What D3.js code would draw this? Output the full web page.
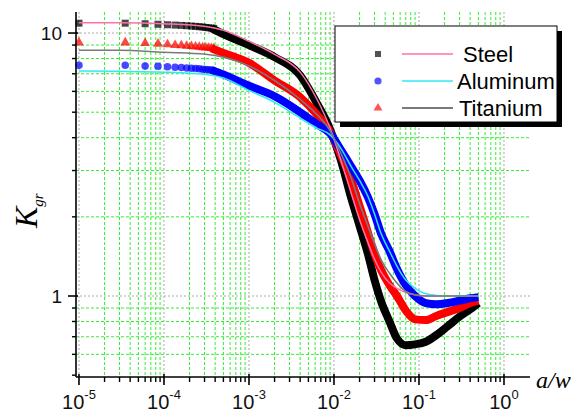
<!DOCTYPE html>
<html><head><meta charset="utf-8">
<script src="https://cdn.jsdelivr.net/npm/d3@7/dist/d3.min.js"></script>
<style>html,body{margin:0;padding:0;background:#fff;} svg{display:block;}</style>
</head><body>
<svg id="chart" width="574" height="415"></svg>
<script>
// ---------- data ----------
const seriesNames = ["Steel", "Aluminum", "Titanium"];

// sparse markers at small a/w (distinct symbols)
const aSparse = [1e-5, 3.5e-5, 6e-5, 8.5e-5, 1.1e-4, 1.35e-4, 1.6e-4, 1.85e-4, 2.1e-4, 2.35e-4, 2.6e-4, 2.85e-4, 3.1e-4, 3.35e-4, 3.6e-4, 3.85e-4];
const steelSparse = [10.9, 10.9, 10.85, 10.8, 10.75, 10.72, 10.69, 10.66, 10.63, 10.6, 10.57, 10.54, 10.5, 10.47, 10.44, 10.41];
const aluminumSparse = [7.55, 7.55, 7.5, 7.47, 7.44, 7.41, 7.39, 7.37, 7.35, 7.33, 7.31, 7.29, 7.27, 7.25, 7.23, 7.21];
const titaniumSparse = [9.2, 9.2, 9.15, 9.1, 9.05, 9.0, 8.97, 8.94, 8.91, 8.88, 8.85, 8.82, 8.8, 8.78, 8.76, 8.74];

// dense marker band (markers overlap into a thick band)
const aBand = [3.6e-4, 5e-4, 1e-3, 2e-3, 4e-3, 6.3e-3, 9e-3, 1.2e-2, 1.6e-2, 2e-2, 2.5e-2, 3e-2, 3.6e-2, 4.5e-2, 5.5e-2, 7e-2, 9e-2, 0.12, 0.16, 0.22, 0.3, 0.4, 0.5];
const steelBand = [10.44, 9.9, 9.0, 8.1, 6.9, 5.4, 4.3, 3.3, 2.35, 1.85, 1.45, 1.15, 0.95, 0.8, 0.69, 0.65, 0.655, 0.67, 0.71, 0.77, 0.835, 0.89, 0.94];
const aluminumBand = [7.23, 6.95, 6.3, 5.75, 5.0, 4.5, 4.15, 3.6, 3.1, 2.75, 2.38, 2.05, 1.72, 1.48, 1.27, 1.1, 1.0, 0.94, 0.93, 0.94, 0.96, 0.98, 0.99];
const titaniumBand = [8.76, 8.4, 7.7, 6.6, 5.7, 4.9, 4.2, 3.45, 2.75, 2.2, 1.75, 1.45, 1.25, 1.1, 1.0, 0.88, 0.815, 0.81, 0.84, 0.87, 0.9, 0.94, 0.96];

// theoretical lines
const aTheory = [1e-5, 3e-5, 1e-4, 3.1e-4, 5e-4, 1e-3, 2e-3, 4e-3, 6.3e-3, 9e-3, 1.2e-2, 1.6e-2, 2e-2, 2.5e-2, 3e-2, 3.6e-2, 4.5e-2, 5.5e-2, 7e-2, 9e-2, 0.12, 0.16, 0.22, 0.3, 0.4, 0.5];
const steelTheory = [10.95, 10.95, 10.85, 10.6, 10.25, 9.3, 8.3, 7.1, 5.6, 4.35, 3.3, 2.45, 1.95, 1.6, 1.38, 1.23, 1.12, 1.07, 1.03, 1.01, 1.0, 1.0, 1.0, 1.0, 1.0, 1.0];
const aluminumTheory = [7.17, 7.15, 7.1, 6.95, 6.75, 6.05, 5.45, 4.75, 4.35, 4.1, 3.65, 3.1, 2.75, 2.4, 2.05, 1.72, 1.48, 1.3, 1.15, 1.07, 1.02, 1.005, 1.0, 1.0, 1.0, 1.0];
const titaniumTheory = [8.6, 8.6, 8.45, 8.3, 8.1, 7.5, 6.6, 5.6, 4.9, 4.25, 3.5, 2.8, 2.25, 1.85, 1.58, 1.37, 1.22, 1.12, 1.04, 1.01, 1.0, 1.0, 1.0, 1.0, 1.0, 1.0];

// ticks
const xMajorTicks = [1e-5, 1e-4, 1e-3, 1e-2, 1e-1, 1];
const xTickExponents = ["-5", "-4", "-3", "-2", "-1", "0"];
const yMajorTicks = [1, 10];
const yTickLabels = ["1", "10"];
const xLabel = "a/w";
const yLabelMain = "K";
const yLabelSub = "gr";

(function () {
// ---------- layout ----------
const svg = d3.select("#chart");
const pL = 76, pR = 530, pT = 12, pB = 377;
const x = d3.scaleLog().domain([Math.pow(10, -5.035), Math.pow(10, 0.306)]).range([pL, pR]);
const y = d3.scaleLog().domain([Math.pow(10, -0.308), Math.pow(10, 1.08)]).range([pB, pT]);

const xMinor = [];
for (let e = -5; e <= -1; e++) for (let m = 2; m <= 9; m++) xMinor.push(m * Math.pow(10, e));
const yMinor = [0.5, 0.6, 0.7, 0.8, 0.9, 2, 3, 4, 5, 6, 7, 8, 9];

// grid
const grid = svg.append("g");
grid.selectAll(".gxm").data(xMinor).enter().append("line")
  .attr("x1", d => x(d)).attr("x2", d => x(d)).attr("y1", pT).attr("y2", pB)
  .attr("stroke", "#33ee33").attr("stroke-width", 1).attr("stroke-dasharray", "3,2");
grid.selectAll(".gym").data(yMinor.filter(v => v > 0.52)).enter().append("line")
  .attr("x1", pL).attr("x2", pR).attr("y1", d => y(d)).attr("y2", d => y(d))
  .attr("stroke", "#33ee33").attr("stroke-width", 1).attr("stroke-dasharray", "3,2");
grid.selectAll(".gxM").data(xMajorTicks).enter().append("line")
  .attr("x1", d => x(d)).attr("x2", d => x(d)).attr("y1", pT).attr("y2", pB)
  .attr("stroke", "#aaaaaa").attr("stroke-width", 1).attr("stroke-dasharray", "2,2");
grid.selectAll(".gyM").data(yMajorTicks).enter().append("line")
  .attr("x1", pL).attr("x2", pR).attr("y1", d => y(d)).attr("y2", d => y(d))
  .attr("stroke", "#aaaaaa").attr("stroke-width", 1).attr("stroke-dasharray", "2,2");

// series
const colors = { steel: "#000000", aluminum: "#0000ff", titanium: "#ff0000" };
const lineColors = { steel: "#ff70a8", aluminum: "#30e8f8", titanium: "#7a7a7a" };
const mk = (xs, ys) => xs.map((a, i) => ({ a: a, k: ys[i] }));
const lineGen = d3.line().x(d => x(d.a)).y(d => y(d.k)).curve(d3.curveMonotoneX);

const bands = [
  { key: "steel", data: mk(aBand, steelBand) },
  { key: "titanium", data: mk(aBand, titaniumBand) },
  { key: "aluminum", data: mk(aBand, aluminumBand) }
];
const sparse = [
  { key: "steel", data: mk(aSparse, steelSparse), sym: d3.symbolSquare, size: 49 },
  { key: "titanium", data: mk(aSparse, titaniumSparse), sym: d3.symbolTriangle, size: 42 },
  { key: "aluminum", data: mk(aSparse, aluminumSparse), sym: d3.symbolCircle, size: 44 }
];
const gS = svg.append("g");
sparse.forEach((s, idx) => {
  gS.selectAll(".m" + idx).data(s.data).enter().append("path")
    .attr("d", d3.symbol().type(s.sym).size(s.size))
    .attr("transform", d => `translate(${x(d.a)},${y(d.k)})`)
    .attr("fill", colors[s.key]).attr("fill-opacity", 0.72);
  const b = bands[idx];
  gS.append("path").datum(b.data).attr("d", lineGen)
    .attr("fill", "none").attr("stroke", colors[b.key]).attr("stroke-width", 8)
    .attr("stroke-linecap", "butt").attr("stroke-linejoin", "round");
});

const theory = [
  { key: "steel", data: mk(aTheory, steelTheory), w: 1.5 },
  { key: "aluminum", data: mk(aTheory, aluminumTheory), w: 1.5 },
  { key: "titanium", data: mk(aTheory, titaniumTheory), w: 1.6 }
];
theory.forEach(t => {
  svg.append("path").datum(t.data).attr("d", lineGen)
    .attr("fill", "none").attr("stroke", lineColors[t.key]).attr("stroke-width", t.w);
});

// axes
const ax = svg.append("g").attr("stroke", "#000");
ax.append("line").attr("x1", pL).attr("x2", pR).attr("y1", pB).attr("y2", pB).attr("stroke-width", 1.6);
ax.append("line").attr("x1", pL).attr("x2", pL).attr("y1", pT).attr("y2", pB).attr("stroke-width", 1.6);
ax.selectAll(".xt").data(xMajorTicks).enter().append("line")
  .attr("x1", d => x(d)).attr("x2", d => x(d)).attr("y1", pB - 3).attr("y2", pB + 8).attr("stroke-width", 1.6);
ax.selectAll(".xm").data(xMinor).enter().append("line")
  .attr("x1", d => x(d)).attr("x2", d => x(d)).attr("y1", pB).attr("y2", pB + 5).attr("stroke-width", 1.4);
ax.selectAll(".yt").data(yMajorTicks).enter().append("line")
  .attr("x1", pL - 8).attr("x2", pL + 2).attr("y1", d => y(d)).attr("y2", d => y(d)).attr("stroke-width", 1.6);
ax.selectAll(".ym").data(yMinor).enter().append("line")
  .attr("x1", pL - 4).attr("x2", pL).attr("y1", d => y(d)).attr("y2", d => y(d)).attr("stroke-width", 1.4);

const font = "'Liberation Sans', Arial, sans-serif";
const xl = svg.selectAll(".xl").data(xMajorTicks).enter().append("text")
  .attr("x", d => x(d)).attr("y", 409).attr("text-anchor", "middle")
  .attr("font-family", font).attr("font-size", 20).attr("fill", "#111");
xl.append("tspan").text("10");
xl.append("tspan").attr("dy", -10).attr("font-size", 13).text((d, i) => xTickExponents[i]);

svg.selectAll(".yl").data(yMajorTicks).enter().append("text")
  .attr("x", 62).attr("y", d => y(d) + 7).attr("text-anchor", "end")
  .attr("font-family", font).attr("font-size", 19).attr("fill", "#111")
  .text((d, i) => yTickLabels[i]);

// axis titles
svg.append("text").attr("x", 536).attr("y", 388)
  .attr("font-family", "'Liberation Serif', 'Times New Roman', serif").attr("font-style", "italic")
  .attr("font-size", 24).attr("fill", "#000").text(xLabel);
const yt = svg.append("text").attr("transform", "translate(37,228) rotate(-90)")
  .attr("font-family", "'Liberation Serif', 'Times New Roman', serif").attr("font-style", "italic")
  .attr("font-size", 32).attr("fill", "#000");
yt.append("tspan").text(yLabelMain);
yt.append("tspan").attr("dy", 6).attr("font-size", 15).text(yLabelSub);

// legend
const lg = svg.append("g");
lg.append("rect").attr("x", 340).attr("y", 31).attr("width", 222).attr("height", 96).attr("fill", "#000");
lg.append("rect").attr("x", 335).attr("y", 26).attr("width", 222).attr("height", 96)
  .attr("fill", "#fff").attr("stroke", "#000").attr("stroke-width", 1);
const legendItems = [
  { name: seriesNames[0], key: "steel", sym: d3.symbolSquare, size: 36, tx: 463, w: 1.5 },
  { name: seriesNames[1], key: "aluminum", sym: d3.symbolCircle, size: 40, tx: 457, w: 1.5 },
  { name: seriesNames[2], key: "titanium", sym: d3.symbolTriangle, size: 34, tx: 459, w: 2.2 }
];
legendItems.forEach((it, i) => {
  const cy = 54 + i * 27;
  lg.append("path").attr("d", d3.symbol().type(it.sym).size(it.size))
    .attr("transform", `translate(378,${cy})`).attr("fill", colors[it.key]).attr("fill-opacity", 0.68);
  lg.append("line").attr("x1", 402).attr("x2", 453).attr("y1", cy).attr("y2", cy)
    .attr("stroke", lineColors[it.key]).attr("stroke-width", it.w);
  lg.append("text").attr("x", it.tx).attr("y", cy + 7.5).attr("font-family", font)
    .attr("font-size", 22).attr("fill", "#000").text(it.name);
});
})();
</script>
</body></html>
